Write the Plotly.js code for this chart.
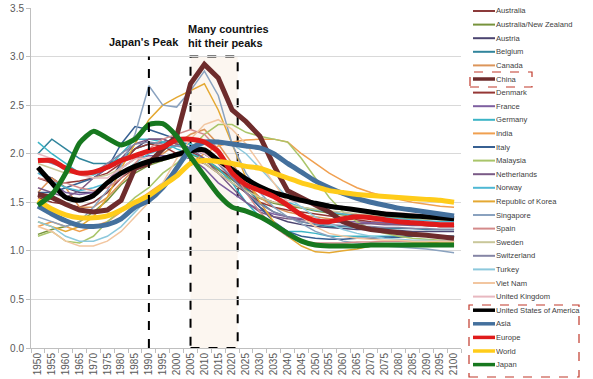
<!DOCTYPE html>
<html><head><meta charset="utf-8">
<script src="https://cdn.plot.ly/plotly-3.0.1.min.js"></script>
<style>html,body{margin:0;padding:0;background:#fff}#chart{width:593px;height:379px}</style>
</head><body><div id="chart"></div>
<script>
const years = ['1950','1955','1960','1965','1970','1975','1980','1985','1990','1995','2000','2005','2010','2015','2020','2025','2030','2035','2040','2045','2050','2055','2060','2065','2070','2075','2080','2085','2090','2095','2100'];

const seriesNames = ['Australia','Australia/New Zealand','Austria','Belgium','Canada','China','Denmark','France','Germany','India','Italy','Malaysia','Netherlands','Norway','Republic of Korea','Singapore','Spain','Sweden','Switzerland','Turkey','Viet Nam','United Kingdom','United States of America','Asia','Europe','World','Japan'];

const australia   = [1.55,1.50,1.48,1.45,1.50,1.60,1.75,1.85,1.90,1.95,2.00,2.02,1.95,1.85,1.75,1.65,1.55,1.50,1.47,1.45,1.42,1.40,1.38,1.37,1.36,1.35,1.35,1.34,1.34,1.33,1.33];
const australiaNZ = [1.17,1.22,1.25,1.30,1.40,1.52,1.68,1.80,1.88,1.93,1.97,2.00,1.93,1.83,1.73,1.63,1.54,1.49,1.46,1.44,1.41,1.39,1.37,1.36,1.35,1.34,1.34,1.33,1.33,1.32,1.32];
const austria     = [1.80,1.75,1.65,1.60,1.60,1.70,1.90,2.05,2.15,2.15,2.10,2.05,2.00,1.90,1.75,1.60,1.45,1.35,1.30,1.27,1.25,1.24,1.23,1.22,1.22,1.21,1.21,1.20,1.20,1.20,1.20];
const belgium     = [2.00,2.15,2.05,1.95,1.90,1.90,1.95,2.05,2.10,2.12,2.12,2.10,2.05,1.95,1.80,1.65,1.50,1.40,1.35,1.30,1.27,1.25,1.25,1.24,1.24,1.23,1.23,1.23,1.22,1.22,1.22];
const canada      = [1.60,1.75,1.65,1.45,1.45,1.55,1.70,1.85,1.95,2.00,2.10,2.20,2.25,2.10,1.90,1.70,1.55,1.45,1.40,1.37,1.35,1.33,1.31,1.30,1.29,1.28,1.27,1.27,1.26,1.25,1.25];
const china       = [1.58,1.55,1.48,1.42,1.40,1.42,1.52,1.85,1.90,2.05,2.18,2.72,2.92,2.78,2.45,2.33,2.18,1.88,1.62,1.55,1.48,1.40,1.30,1.25,1.22,1.20,1.19,1.17,1.16,1.14,1.13];
const denmark     = [1.75,1.70,1.70,1.72,1.75,1.80,1.90,2.05,2.10,2.08,2.00,1.95,1.90,1.80,1.70,1.60,1.50,1.45,1.42,1.40,1.38,1.36,1.34,1.32,1.30,1.29,1.28,1.27,1.26,1.25,1.25];
const france      = [1.85,1.70,1.60,1.58,1.60,1.70,1.85,1.95,1.98,1.98,1.98,1.95,1.85,1.70,1.60,1.50,1.42,1.38,1.35,1.33,1.32,1.31,1.30,1.30,1.29,1.29,1.28,1.28,1.28,1.27,1.27];
const germany     = [2.12,2.00,1.90,1.80,1.78,1.85,2.00,2.15,2.15,2.12,2.05,2.00,1.95,1.85,1.70,1.50,1.35,1.25,1.20,1.20,1.18,1.15,1.15,1.15,1.15,1.15,1.15,1.15,1.15,1.15,1.15];
const india       = [1.25,1.30,1.25,1.20,1.25,1.30,1.40,1.50,1.60,1.70,1.80,1.90,2.00,2.08,2.12,2.14,2.15,2.15,2.12,2.00,1.90,1.80,1.72,1.65,1.60,1.56,1.53,1.50,1.48,1.46,1.45];
const italy       = [1.60,1.60,1.65,1.70,1.75,1.85,2.10,2.28,2.25,2.20,2.15,2.05,2.00,1.90,1.75,1.60,1.45,1.30,1.20,1.15,1.13,1.12,1.12,1.13,1.13,1.14,1.14,1.15,1.15,1.15,1.15];
const malaysia    = [1.15,1.20,1.10,1.08,1.15,1.30,1.42,1.55,1.65,1.80,1.90,2.05,2.20,2.30,2.30,2.22,2.18,2.15,2.12,1.95,1.75,1.55,1.40,1.30,1.22,1.18,1.15,1.13,1.12,1.11,1.10];
const netherlands = [1.65,1.60,1.55,1.62,1.75,1.85,1.95,2.10,2.15,2.15,2.10,2.05,1.95,1.80,1.65,1.50,1.40,1.35,1.33,1.32,1.31,1.30,1.29,1.28,1.28,1.27,1.27,1.26,1.26,1.25,1.25];
const norway      = [1.80,1.72,1.65,1.62,1.65,1.70,1.80,1.90,2.00,2.05,2.08,2.10,2.05,1.95,1.85,1.75,1.62,1.55,1.50,1.45,1.42,1.40,1.38,1.36,1.35,1.34,1.33,1.32,1.31,1.30,1.30];
const korea       = [1.30,1.25,1.20,1.25,1.35,1.55,1.85,2.10,2.35,2.50,2.58,2.65,2.72,2.45,2.10,1.75,1.50,1.30,1.15,1.05,0.99,0.98,1.00,1.02,1.05,1.06,1.07,1.08,1.08,1.09,1.09];
const singapore   = [1.35,1.30,1.25,1.30,1.45,1.62,1.88,2.20,2.70,2.50,2.48,2.65,2.85,2.60,2.10,1.80,1.60,1.45,1.35,1.28,1.20,1.15,1.10,1.08,1.06,1.05,1.04,1.03,1.02,1.00,0.98];
const spain       = [1.75,1.72,1.70,1.65,1.62,1.65,1.75,1.90,2.05,2.15,2.20,2.25,2.20,2.05,1.85,1.60,1.40,1.25,1.15,1.10,1.08,1.08,1.08,1.09,1.09,1.10,1.10,1.10,1.10,1.10,1.10];
const sweden      = [1.90,1.85,1.80,1.80,1.75,1.78,1.85,1.95,1.95,1.95,1.98,1.97,1.90,1.80,1.70,1.62,1.55,1.50,1.48,1.45,1.43,1.41,1.40,1.38,1.37,1.36,1.35,1.34,1.33,1.33,1.32];
const switzerland = [1.95,1.90,1.85,1.80,1.80,1.90,2.00,2.10,2.12,2.10,2.08,2.05,2.00,1.90,1.75,1.60,1.48,1.40,1.35,1.30,1.28,1.27,1.26,1.25,1.25,1.24,1.24,1.23,1.23,1.22,1.22];
const turkey      = [1.30,1.25,1.15,1.10,1.10,1.15,1.25,1.40,1.55,1.70,1.85,2.00,2.10,2.12,2.10,2.00,1.85,1.70,1.55,1.45,1.35,1.28,1.22,1.18,1.15,1.13,1.12,1.11,1.11,1.10,1.10];
const vietNam     = [1.25,1.20,1.10,1.05,1.05,1.10,1.20,1.35,1.50,1.70,1.95,2.15,2.30,2.35,2.25,2.10,1.90,1.70,1.50,1.35,1.25,1.18,1.15,1.13,1.12,1.11,1.11,1.10,1.10,1.10,1.10];
const unitedKingdom = [2.00,1.95,1.85,1.78,1.75,1.75,1.85,1.95,1.95,1.95,2.00,2.05,2.00,1.90,1.80,1.70,1.60,1.55,1.52,1.50,1.48,1.46,1.44,1.42,1.41,1.40,1.39,1.38,1.37,1.36,1.35];
const usa         = [1.86,1.70,1.55,1.52,1.57,1.70,1.80,1.87,1.92,1.95,1.99,2.03,2.04,1.93,1.84,1.74,1.66,1.60,1.56,1.52,1.49,1.46,1.44,1.42,1.40,1.38,1.37,1.36,1.35,1.34,1.33];
const asia        = [1.46,1.38,1.31,1.26,1.25,1.27,1.33,1.45,1.52,1.65,1.85,2.05,2.12,2.12,2.10,2.08,2.06,2.00,1.90,1.81,1.72,1.65,1.59,1.54,1.50,1.47,1.44,1.42,1.40,1.38,1.36];
const europe      = [1.93,1.93,1.85,1.80,1.81,1.86,1.93,1.98,2.03,2.07,2.14,2.15,2.12,2.02,1.80,1.68,1.62,1.56,1.47,1.37,1.31,1.30,1.33,1.35,1.34,1.32,1.30,1.29,1.28,1.27,1.27];
const world       = [1.52,1.43,1.37,1.34,1.34,1.36,1.42,1.50,1.57,1.67,1.77,1.90,1.93,1.92,1.90,1.87,1.85,1.80,1.75,1.70,1.66,1.62,1.60,1.58,1.57,1.56,1.55,1.54,1.53,1.52,1.50];
const japan       = [1.47,1.58,1.80,2.11,2.23,2.16,2.09,2.15,2.30,2.31,2.18,1.97,1.77,1.58,1.45,1.41,1.35,1.27,1.18,1.10,1.06,1.05,1.05,1.05,1.06,1.06,1.06,1.06,1.06,1.06,1.06];

const seriesValues = [australia,australiaNZ,austria,belgium,canada,china,denmark,france,germany,india,italy,malaysia,netherlands,norway,korea,singapore,spain,sweden,switzerland,turkey,vietNam,unitedKingdom,usa,asia,europe,world,japan];

const colors = ['#8b3a3a','#77933c','#4b4470','#31859c','#dc955a','#6e2c2c','#953735','#7e5fa0','#3cb4c6','#f0a050','#376092','#a9c56a','#7a5a86','#4fb8d4','#e4a832','#8aa2bf','#d48a8a','#c9c79a','#8585a5','#8cc8dc','#f2c6a0','#e8b8c0','#000000','#44709d','#e01b1b','#ffcc1a','#17781f'];
const thick = new Set(['China','United States of America','Asia','Europe','World','Japan']);

const traces = seriesNames.map((n, i) => {
  const t = thick.has(n);
  return {
    type: 'scatter', mode: 'lines', name: n, x: years, y: seriesValues[i],
    line: {color: colors[i], width: t ? 5 : 1.5, shape: (t && n !== 'China') ? 'spline' : 'linear', smoothing: 0.6},
    hoverinfo: 'skip'
  };
});
const ordered = traces.filter(t => !thick.has(t.name)).concat(
  ['China','United States of America','Asia','Europe','World','Japan'].map(n => traces.find(t => t.name === n)));

const L = 31, R = 461, T = 8, B = 348;
const px = x => (x - L) / (R - L);
const py = y => (B - y) / (B - T);
const narrow = '"Liberation Sans Narrow","Arial Narrow","Liberation Sans",Arial,sans-serif';

const shapes = [
  {type:'rect', xref:'x', yref:'y', x0:11, x1:14.4, y0:0, y1:3.0, layer:'below', fillcolor:'#fcf6f0', line:{color:'#000', width:2, dash:'dash'}},
  {type:'line', xref:'x', yref:'y', x0:8, x1:8, y0:0, y1:3.0, line:{color:'#000', width:2, dash:'dash'}},
  {type:'rect', xref:'paper', yref:'paper', x0:px(470), x1:px(532), y0:py(87), y1:py(72), line:{color:'#c0392b', width:1.2, dash:'dash'}},
  {type:'rect', xref:'paper', yref:'paper', x0:px(469), x1:px(579), y0:py(377), y1:py(305), line:{color:'#c0392b', width:1.2, dash:'dash'}}
];
const annotations = [
  {xref:'paper', yref:'paper', x:px(143.5), y:py(42), text:"<b>Japan's Peak</b>", showarrow:false, xanchor:'center', yanchor:'middle',
   font:{family:narrow, size:11, color:'#111'}},
  {xref:'paper', yref:'paper', x:px(186), y:py(35.5), text:'<b>Many countries</b><br><b>hit their peaks</b>', showarrow:false, xanchor:'left', yanchor:'middle', align:'left',
   font:{family:narrow, size:11, color:'#111'}}
];
seriesNames.forEach((n, i) => {
  const yy = py(11 + i * 13.6);
  shapes.push({type:'line', xref:'paper', yref:'paper', x0:px(473), x1:px(495), y0:yy, y1:yy,
    line:{color:colors[i], width: thick.has(n) ? 3.5 : 2}});
  annotations.push({xref:'paper', yref:'paper', x:px(494), y:yy, text:n, showarrow:false, xanchor:'left', yanchor:'middle',
    font:{family:narrow, size:7.6, color:'#404040'}});
});

const layout = {
  width:593, height:379,
  margin:{l:L, r:593-R, t:T, b:379-B, pad:0},
  paper_bgcolor:'#fff', plot_bgcolor:'#fff',
  showlegend:false,
  xaxis:{type:'category', categoryorder:'array', categoryarray:years, range:[-0.5, 30.5], tickangle:-90,
    tickfont:{family:'"Liberation Sans",Arial,sans-serif', size:10, color:'#595959'},
    showgrid:false, showline:true, linecolor:'#bfbfbf', ticks:'outside', ticklen:4, tickcolor:'#bfbfbf', tickson:'boundaries', fixedrange:true},
  yaxis:{range:[0,3.5], dtick:0.5, tickformat:'.1f', tickfont:{family:'"Liberation Sans",Arial,sans-serif', size:10, color:'#595959'},
    showgrid:true, gridcolor:'#d9d9d9', gridwidth:1, zeroline:false, showline:true, linecolor:'#bfbfbf', ticks:'outside', ticklen:4, tickcolor:'#bfbfbf', fixedrange:true},
  shapes: shapes, annotations: annotations
};
Plotly.newPlot('chart', ordered, layout, {displayModeBar:false, staticPlot:true});
</script></body></html>
